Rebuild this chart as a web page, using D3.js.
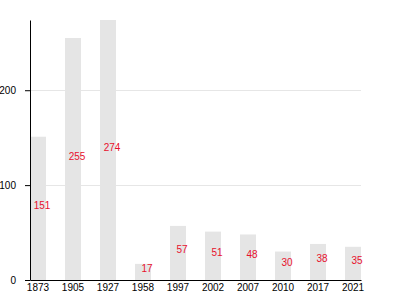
<!DOCTYPE html>
<html>
<head>
	<meta charset="utf-8">
	<title>Bars</title>
	<script src="https://d3js.org/d3.v7.min.js"></script>
	<style>
		body { margin: 0; background: #fff; }
		svg { display: block; }
		text { font-family: "Liberation Sans", Arial, sans-serif; font-size: 10px; fill: #000; }
		.grid line { stroke: #e6e6e6; stroke-width: 1; }
		.bar { fill: #e5e5e5; }
		text.value { fill: #e8112d; font-size: 10px; }
	</style>
</head>
<body>
	<svg width="400" height="300"></svg>
<script>
	// data
	const years = ['1873', '1905', '1927', '1958', '1997', '2002', '2007', '2010', '2017', '2021'];
	const values = [151, 255, 274, 17, 57, 51, 48, 30, 38, 35];
	const yTicks = [0, 100, 200];

	const sample = years.map((y, i) => ({ year: y, value: values[i] }));

	const svg = d3.select('svg');
	const mLeft = 30, mRight = 361, mTop = 20, mBottom = 280;

	const xScale = d3.scaleBand()
		.range([mLeft, mRight])
		.domain(years)
		.paddingInner(0.543)
		.paddingOuter(0);

	const yScale = d3.scaleLinear()
		.range([mBottom, mTop])
		.domain([0, d3.max(values)]);

	// grid lines
	svg.append('g')
		.attr('class', 'grid')
		.selectAll('line')
		.data(yTicks.filter(t => t > 0))
		.join('line')
		.attr('x1', mLeft)
		.attr('x2', mRight)
		.attr('y1', d => Math.round(yScale(d)) + 0.5)
		.attr('y2', d => Math.round(yScale(d)) + 0.5);

	// bars
	svg.append('g')
		.selectAll('rect')
		.data(sample)
		.join('rect')
		.attr('class', 'bar')
		.attr('x', d => xScale(d.year))
		.attr('y', d => yScale(d.value))
		.attr('width', xScale.bandwidth())
		.attr('height', d => mBottom - yScale(d.value));

	// value labels, half way up the bar
	svg.append('g')
		.selectAll('text')
		.data(sample)
		.join('text')
		.attr('class', 'value')
		.attr('x', d => xScale(d.year) + xScale.bandwidth() / 2 + 4)
		.attr('y', d => (yScale(d.value) + mBottom) / 2 + 0.5)
		.attr('text-anchor', 'middle')
		.text(d => d.value);

	// axes
	const xAxis = svg.append('g')
		.attr('transform', `translate(0, ${mBottom})`)
		.call(d3.axisBottom(xScale).tickSize(0).tickPadding(4));

	const yAxis = svg.append('g')
		.attr('transform', `translate(${mLeft}, 0)`)
		.call(d3.axisLeft(yScale).tickValues(yTicks).tickFormat(d3.format('d'))
			.tickSize(5).tickSizeOuter(0).tickPadding(9));

	[xAxis, yAxis].forEach(a => {
		a.attr('font-family', null).attr('font-size', null);
		a.select('.domain').attr('stroke', '#000');
		a.selectAll('.tick line').attr('stroke', '#000');
		a.selectAll('.tick text').attr('fill', '#000');
	});
</script>
</body>
</html>
